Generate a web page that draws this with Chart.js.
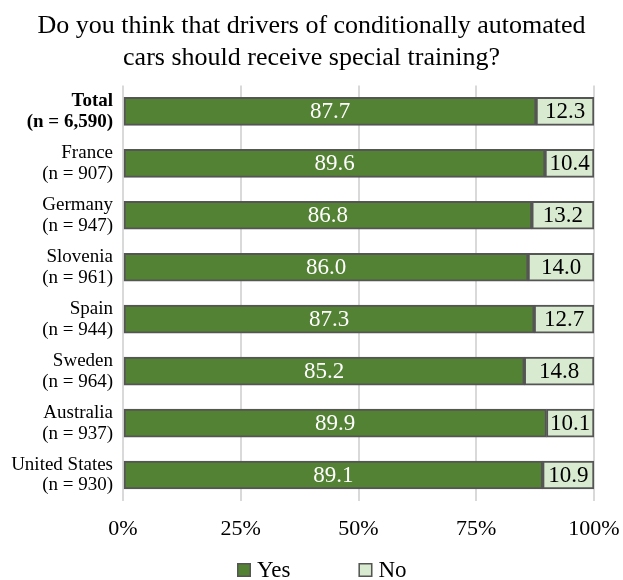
<!DOCTYPE html>
<html>
<head>
<meta charset="utf-8">
<script src="https://cdn.jsdelivr.net/npm/chart.js@4/dist/chart.umd.min.js"></script>
<style>
  html, body { margin: 0; padding: 0; background: #ffffff; }
  #wrap { width: 623px; height: 580px; }
</style>
</head>
<body>
<div id="wrap"><canvas id="c" width="623" height="580"></canvas></div>
<script>
const titleLines = ['Do you think that drivers of conditionally automated', 'cars should receive special training?'];
const categories = [
  ['Total', '(n = 6,590)'],
  ['France', '(n = 907)'],
  ['Germany', '(n = 947)'],
  ['Slovenia', '(n = 961)'],
  ['Spain', '(n = 944)'],
  ['Sweden', '(n = 964)'],
  ['Australia', '(n = 937)'],
  ['United States', '(n = 930)']
];
const seriesNames = ['Yes', 'No'];
const yesValues = [87.7, 89.6, 86.8, 86.0, 87.3, 85.2, 89.9, 89.1];
const noValues  = [12.3, 10.4, 13.2, 14.0, 12.7, 14.8, 10.1, 10.9];
const xTicks = [0, 25, 50, 75, 100];

const FONT = "'Liberation Serif', 'Times New Roman', serif";
const COLORS = ['#548235', '#d8ead0'];
const BORDER = '#555555';
const LABEL_COLORS = ['#ffffff', '#000000'];

const valueLabels = {
  id: 'valueLabels',
  afterDatasetsDraw(chart) {
    const ctx = chart.ctx;
    ctx.save();
    ctx.font = '23px ' + FONT;
    ctx.textAlign = 'center';
    ctx.textBaseline = 'middle';
    chart.data.datasets.forEach((ds, di) => {
      const meta = chart.getDatasetMeta(di);
      meta.data.forEach((el, i) => {
        const p = el.getProps(['x', 'y', 'base'], true);
        ctx.fillStyle = LABEL_COLORS[di];
        ctx.fillText(ds.data[i].toFixed(1), (p.x + p.base) / 2, p.y + 1);
      });
    });
    ctx.restore();
  }
};

const customLegend = {
  id: 'customLegend',
  afterDraw(chart) {
    const ctx = chart.ctx;
    ctx.save();
    ctx.font = '23px ' + FONT;
    ctx.textBaseline = 'alphabetic';
    ctx.textAlign = 'left';
    const box = 14, gapText = 6, gapItems = 68;
    const items = chart.data.datasets.map(d => d.label);
    let x = 237;
    const baseY = 577;
    items.forEach((t, i) => {
      const ds = chart.data.datasets[i];
      ctx.fillStyle = ds.backgroundColor;
      ctx.strokeStyle = BORDER;
      ctx.lineWidth = 1.5;
      ctx.fillRect(x, baseY - 14, box, box);
      ctx.strokeRect(x + 0.75, baseY - 14 + 0.75, box - 1.5, box - 1.5);
      ctx.fillStyle = '#000000';
      ctx.fillText(t, x + box + gapText, baseY);
      x += box + gapText + ctx.measureText(t).width + gapItems;
    });
    ctx.restore();
  }
};

new Chart(document.getElementById('c'), {
  type: 'bar',
  data: {
    labels: categories,
    datasets: [
      { label: seriesNames[0], data: yesValues, backgroundColor: COLORS[0], borderColor: BORDER, borderWidth: 2, borderSkipped: false, barThickness: 28 },
      { label: seriesNames[1], data: noValues, backgroundColor: COLORS[1], borderColor: BORDER, borderWidth: 2, borderSkipped: false, barThickness: 28 }
    ]
  },
  options: {
    indexAxis: 'y',
    responsive: false,
    animation: false,
    devicePixelRatio: 1,
    layout: { padding: { left: 0, right: 0, top: 0, bottom: 35 } },
    plugins: {
      legend: { display: false },
      tooltip: { enabled: false },
      title: {
        display: true,
        text: titleLines,
        color: '#000000',
        font: { family: FONT, size: 26, weight: 'normal', lineHeight: 1.2 },
        padding: { top: 11, bottom: 12 }
      }
    },
    scales: {
      x: {
        stacked: true,
        min: 0,
        max: 100,
        afterBuildTicks(scale) { scale.ticks = xTicks.map(v => ({ value: v })); },
        ticks: {
          callback: v => v + '%',
          color: '#000000',
          font: { family: FONT, size: 22 },
          padding: 15,
          maxRotation: 0
        },
        grid: { color: '#d9d9d9', lineWidth: 2, drawTicks: false },
        border: { display: false },
        afterFit(scale) {
          scale.height = 44;
          scale.paddingLeft = 0;
          scale.paddingRight = 0;
        }
      },
      y: {
        stacked: true,
        ticks: {
          color: '#000000',
          font: (ctx) => ({ family: FONT, size: 19, lineHeight: 1.1, weight: ctx.index === 0 ? 'bold' : 'normal' }),
          padding: 10
        },
        grid: { display: false, drawTicks: false },
        border: { display: false },
        afterFit(scale) { scale.width = 123; scale.paddingTop = 0; scale.paddingBottom = 0; }
      },
      rightSpace: {
        type: 'linear',
        position: 'right',
        display: true,
        ticks: { display: false },
        grid: { display: false, drawTicks: false },
        border: { display: false },
        afterFit(scale) { scale.width = 29; scale.paddingTop = 0; scale.paddingBottom = 0; }
      }
    }
  },
  plugins: [valueLabels, customLegend]
});
</script>
</body>
</html>
